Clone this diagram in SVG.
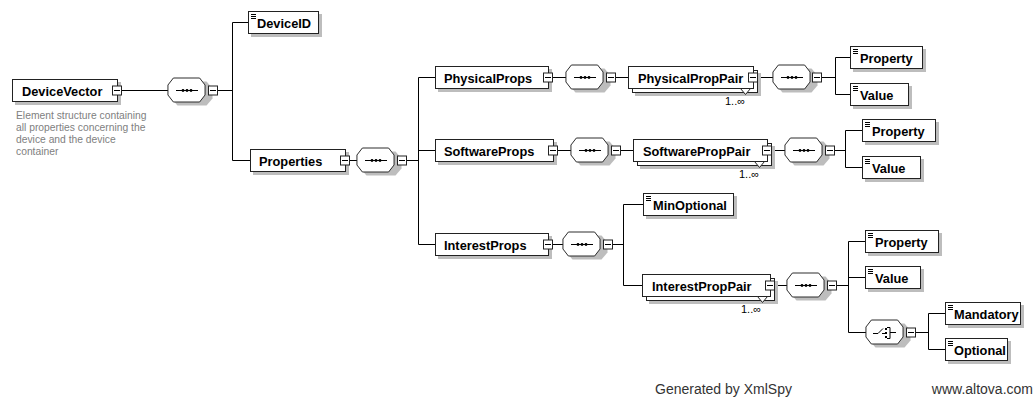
<svg xmlns="http://www.w3.org/2000/svg" xmlns:xlink="http://www.w3.org/1999/xlink" width="1035" height="400" viewBox="0 0 1035 400">
<style>
.bx{fill:#fff;stroke:#222;stroke-width:1}
.sh{fill:#bdbdbd;stroke:none}
.t{font-family:"Liberation Sans",Arial,sans-serif;font-weight:bold;font-size:12.8px;fill:#000}
.d{font-family:"Liberation Sans",Arial,sans-serif;font-size:10.3px;fill:#808080}
.o{font-family:"Liberation Sans",Arial,sans-serif;font-size:11px;fill:#000}
.f{font-family:"Liberation Sans",Arial,sans-serif;font-size:14px;fill:#333}
.c{fill:none;stroke:#000;stroke-width:1}
</style>
<defs>
<g id="oct">
<path class="sh" d="M9.5,3.5 H38.5 L44.5,10.5 V20.5 L38.5,27.5 H9.5 L3.5,20.5 V10.5 Z"/>
<path class="bx" d="M6.5,0.5 H35.5 L41.5,7.5 V17.5 L35.5,24.5 H6.5 L0.5,17.5 V7.5 Z" transform="translate(-0.5,-0.5) scale(0.9048,1)"/>
</g>
<g id="seq">
<use href="#oct"/>
<path class="c" d="M8,12.5 H30"/>
<circle cx="15" cy="12.5" r="1.4"/>
<circle cx="19" cy="12.5" r="1.4"/>
<circle cx="23" cy="12.5" r="1.4"/>
</g>
<g id="cho">
<use href="#oct"/>
<path class="c" d="M7,13.5 H12 L17,8.5 M16,13.5 H19 M21,7.5 H24 V18.5 H21 M24,12.5 H30"/>
<rect x="19" y="8" width="2" height="2"/>
<rect x="19" y="12" width="2" height="2"/>
<rect x="19" y="16" width="2" height="2"/>
</g>
<g id="minus">
<rect class="bx" x="0.5" y="0.5" width="9" height="9"/>
<path class="c" d="M2,5 H8"/>
</g>
<g id="leaf">
<path class="c" d="M3,3.5 H8 M3,5.5 H8 M3,7.5 H8"/>
</g>
</defs>

<g id="connectors">
<path class="c" d="M121.5,90.5 H168 M206,90.5 H208.5 M217.5,90.5 H232.5 M232.5,22.5 V160.5 M232.5,22.5 H248.5 M232.5,160.5 H250.5"/>
<path class="c" d="M349.5,160.5 H357 M395,160.5 H397.5 M406.5,160.5 H418.5 M418.5,77.5 V244.5 M418.5,77.5 H435.5 M418.5,150.5 H435.5 M418.5,244.5 H435.5"/>
<path class="c" d="M552.5,77.5 H566 M604,77.5 H606.5 M615.5,77.5 H628.5 M757.5,77.5 H773 M811,77.5 H812.5 M821.5,77.5 H835.5 M835.5,57.5 V94.5 M835.5,57.5 H850.5 M835.5,94.5 H850.5"/>
<path class="c" d="M557.5,150.5 H571 M609,150.5 H611.5 M620.5,150.5 H633.5 M771.5,150.5 H785 M823,150.5 H825.5 M834.5,150.5 H845.5 M845.5,130.5 V167.5 M845.5,130.5 H862.5 M845.5,167.5 H862.5"/>
<path class="c" d="M552.5,244.5 H563 M601,244.5 H603.5 M612.5,244.5 H623.5 M623.5,204.5 V285.5 M623.5,204.5 H643.5 M623.5,285.5 H642.5"/>
<path class="c" d="M774.5,285.5 H787 M825,285.5 H827.5 M836.5,285.5 H848.5 M848.5,241.5 V332.5 M848.5,241.5 H865.5 M848.5,277.5 H865.5 M848.5,332.5 H866 M904,332.5 H906.5 M915.5,332.5 H928.5 M928.5,313.5 V349.5 M928.5,313.5 H945.5 M928.5,349.5 H945.5"/>
</g>

<g id="n-DeviceVector">
<rect class="sh" x="15" y="82" width="106" height="23"/>
<rect class="bx" x="12.5" y="79.5" width="105" height="22"/>
<text class="t" x="22" y="95.5">DeviceVector</text>
<use href="#minus" x="112" y="85.5"/>
<text class="d" x="16" y="119">Element structure containing</text>
<text class="d" x="16" y="131">all properties concerning the</text>
<text class="d" x="16" y="143">device and the device</text>
<text class="d" x="16" y="155">container</text>
</g>
<g id="s-1"><use href="#seq" x="168" y="78"/><use href="#minus" x="208" y="85.5"/></g>

<g id="n-DeviceID">
<rect class="sh" x="251" y="14" width="71" height="23"/>
<rect class="bx" x="248.5" y="11.5" width="70" height="22"/>
<use href="#leaf" x="248" y="11"/>
<text class="t" x="257" y="27.5">DeviceID</text>
</g>

<g id="n-Properties">
<rect class="sh" x="253" y="152" width="96" height="23"/>
<rect class="bx" x="250.5" y="149.5" width="95" height="22"/>
<text class="t" x="259" y="165.5">Properties</text>
<use href="#minus" x="340" y="155.5"/>
</g>
<g id="s-2"><use href="#seq" x="357" y="148"/><use href="#minus" x="397" y="155.5"/></g>

<g id="n-PhysicalProps">
<rect class="sh" x="438" y="69" width="114" height="23"/>
<rect class="bx" x="435.5" y="66.5" width="113" height="22"/>
<text class="t" x="444" y="82.5">PhysicalProps</text>
<use href="#minus" x="543" y="72.5"/>
</g>
<g id="s-3"><use href="#seq" x="566" y="65"/><use href="#minus" x="606" y="72.5"/></g>

<g id="n-PhysicalPropPair">
<rect class="sh" x="635" y="73" width="126" height="23"/>
<rect class="bx" x="632.5" y="70.5" width="125" height="22"/>
<rect class="bx" x="628.5" y="66.5" width="125" height="22"/>
<text class="t" x="638" y="82.5">PhysicalPropPair</text>
<path class="bx" d="M740.5,88.5 H750.5 L745.5,94.5 Z"/>
<use href="#minus" x="748" y="72.5"/>
<text class="o" x="725" y="104.5">1..∞</text>
</g>
<g id="s-4"><use href="#seq" x="773" y="65"/><use href="#minus" x="812" y="72.5"/></g>

<g id="n-Property1">
<rect class="sh" x="853" y="49" width="73" height="23"/>
<rect class="bx" x="850.5" y="46.5" width="72" height="22"/>
<use href="#leaf" x="850" y="46"/>
<text class="t" x="860" y="62.5">Property</text>
</g>
<g id="n-Value1">
<rect class="sh" x="853" y="86" width="59" height="23"/>
<rect class="bx" x="850.5" y="83.5" width="58" height="22"/>
<use href="#leaf" x="850" y="83"/>
<text class="t" x="860" y="99.5">Value</text>
</g>

<g id="n-SoftwareProps">
<rect class="sh" x="438" y="142" width="119" height="23"/>
<rect class="bx" x="435.5" y="139.5" width="118" height="22"/>
<text class="t" x="444" y="155.5">SoftwareProps</text>
<use href="#minus" x="548" y="145.5"/>
</g>
<g id="s-5"><use href="#seq" x="571" y="138"/><use href="#minus" x="611" y="145.5"/></g>

<g id="n-SoftwarePropPair">
<rect class="sh" x="640" y="146" width="135" height="23"/>
<rect class="bx" x="637.5" y="143.5" width="134" height="22"/>
<rect class="bx" x="633.5" y="139.5" width="134" height="22"/>
<text class="t" x="643" y="155.5">SoftwarePropPair</text>
<path class="bx" d="M754.5,161.5 H764.5 L759.5,167.5 Z"/>
<use href="#minus" x="762" y="145.5"/>
<text class="o" x="739" y="177.5">1..∞</text>
</g>
<g id="s-6"><use href="#seq" x="785" y="138"/><use href="#minus" x="825" y="145.5"/></g>

<g id="n-Property2">
<rect class="sh" x="865" y="122" width="74" height="23"/>
<rect class="bx" x="862.5" y="119.5" width="73" height="22"/>
<use href="#leaf" x="862" y="119"/>
<text class="t" x="872" y="135.5">Property</text>
</g>
<g id="n-Value2">
<rect class="sh" x="865" y="159" width="59" height="23"/>
<rect class="bx" x="862.5" y="156.5" width="58" height="22"/>
<use href="#leaf" x="862" y="156"/>
<text class="t" x="872" y="172.5">Value</text>
</g>

<g id="n-InterestProps">
<rect class="sh" x="438" y="236" width="114" height="23"/>
<rect class="bx" x="435.5" y="233.5" width="113" height="22"/>
<text class="t" x="444" y="249.5">InterestProps</text>
<use href="#minus" x="543" y="239.5"/>
</g>
<g id="s-7"><use href="#seq" x="563" y="232"/><use href="#minus" x="603" y="239.5"/></g>

<g id="n-MinOptional">
<rect class="sh" x="646" y="196" width="91" height="23"/>
<rect class="bx" x="643.5" y="193.5" width="90" height="22"/>
<use href="#leaf" x="643" y="193"/>
<text class="t" x="653" y="209.5">MinOptional</text>
</g>

<g id="n-InterestPropPair">
<rect class="sh" x="649" y="281" width="129" height="23"/>
<rect class="bx" x="646.5" y="278.5" width="128" height="22"/>
<rect class="bx" x="642.5" y="274.5" width="128" height="22"/>
<text class="t" x="652" y="290.5">InterestPropPair</text>
<path class="bx" d="M757.5,296.5 H767.5 L762.5,302.5 Z"/>
<use href="#minus" x="765" y="280.5"/>
<text class="o" x="741" y="312.5">1..∞</text>
</g>
<g id="s-8"><use href="#seq" x="787" y="273"/><use href="#minus" x="827" y="280.5"/></g>

<g id="n-Property3">
<rect class="sh" x="868" y="233" width="74" height="23"/>
<rect class="bx" x="865.5" y="230.5" width="73" height="22"/>
<use href="#leaf" x="865" y="230"/>
<text class="t" x="875" y="246.5">Property</text>
</g>
<g id="n-Value3">
<rect class="sh" x="868" y="269" width="56" height="23"/>
<rect class="bx" x="865.5" y="266.5" width="55" height="22"/>
<use href="#leaf" x="865" y="266"/>
<text class="t" x="875" y="282.5">Value</text>
</g>

<g id="c-choice"><use href="#cho" x="866" y="320"/><use href="#minus" x="906" y="327.5"/></g>

<g id="n-Mandatory">
<rect class="sh" x="948" y="305" width="76" height="23"/>
<rect class="bx" x="945.5" y="302.5" width="75" height="22"/>
<use href="#leaf" x="945" y="302"/>
<text class="t" x="954" y="318.5">Mandatory</text>
</g>
<g id="n-Optional">
<rect class="sh" x="948" y="341" width="63" height="23"/>
<rect class="bx" x="945.5" y="338.5" width="62" height="22"/>
<use href="#leaf" x="945" y="338"/>
<text class="t" x="954" y="354.5">Optional</text>
</g>

<text class="f" x="655" y="394">Generated by XmlSpy</text>
<text class="f" x="1033" y="394" text-anchor="end">www.altova.com</text>
</svg>
